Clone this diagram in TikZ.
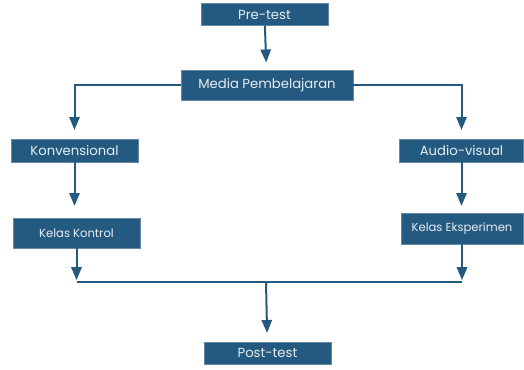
\documentclass[tikz,border=0pt]{standalone}
\usepackage{fontspec}
\setmainfont{Poppins}
\usetikzlibrary{arrows,positioning}
\definecolor{boxblue}{HTML}{245A80}
\definecolor{boxtext}{HTML}{E6EDF3}
\tikzset{
    block/.style = {draw=boxblue!70!white, fill=boxblue, rectangle,
        text=boxtext, inner sep=0pt,
        font=\fontsize{13.2}{15}\selectfont},
    smallblock/.style = {block, font=\fontsize{11.6}{13}\selectfont},
    line/.style = {draw=boxblue, line width=2pt},
    junction/.style = {coordinate},
}

\begin{document}
\begin{tikzpicture}[x=1pt, y=1pt, >=triangle 45]
		\useasboundingbox (0,0) rectangle (524,369);
		% Pre-test
		\node [block, minimum width=127pt, minimum height=22pt] (pretest) at (264.5,354.5) {Pre-test};
		% Media pembelajaran
		\node [block, minimum width=172pt, minimum height=30pt] (media) at (267,283.5) {Media Pembelajaran};
		
		% Konvensional and Audio-visual
		\node [block, minimum width=127pt, minimum height=23pt] (konv) at (74.5,218.5) {Konvensional};
		\node [block, minimum width=124pt, minimum height=23pt] (audio) at (461.5,218.5) {Audio-visual};
		
		% kelas
		\node [smallblock, minimum width=127pt, minimum height=30pt] (kontrol) at (76.5,136) {Kelas Kontrol};
		\node [smallblock, minimum width=122pt, minimum height=31pt] (eksperimen) at (462,140.5) {Kelas Eksperimen};
		
		% Post-test
		\node [block, minimum width=127pt, minimum height=22pt] (posttest) at (267.5,16) {Post-test};
		
		% joining point
		\coordinate [junction] (joinpt) at (266,87);
		
		% connecting lines
		\draw [line,->,shorten >=8pt] (pretest) -- (media);
		\draw [line,->,shorten >=9pt] (media.west) -| (konv.north);
		\draw [line,->,shorten >=9pt] (media.east) -| (audio.north);
		\draw [line,->,shorten >=12pt] (konv) -- (konv |- kontrol.north);
		\draw [line,->,shorten >=7pt] (audio) -- (audio |- eksperimen.north);
		\draw [line,->,shorten >=2pt] (kontrol) -- (kontrol |- joinpt);
		\draw [line,->,shorten >=2pt] (eksperimen) -- (eksperimen |- joinpt);
		\draw [line] (kontrol |- joinpt) -- (eksperimen |- joinpt);
		\draw [line,->,shorten >=9pt] (joinpt) -- (posttest);
	\end{tikzpicture}
\end{document}
